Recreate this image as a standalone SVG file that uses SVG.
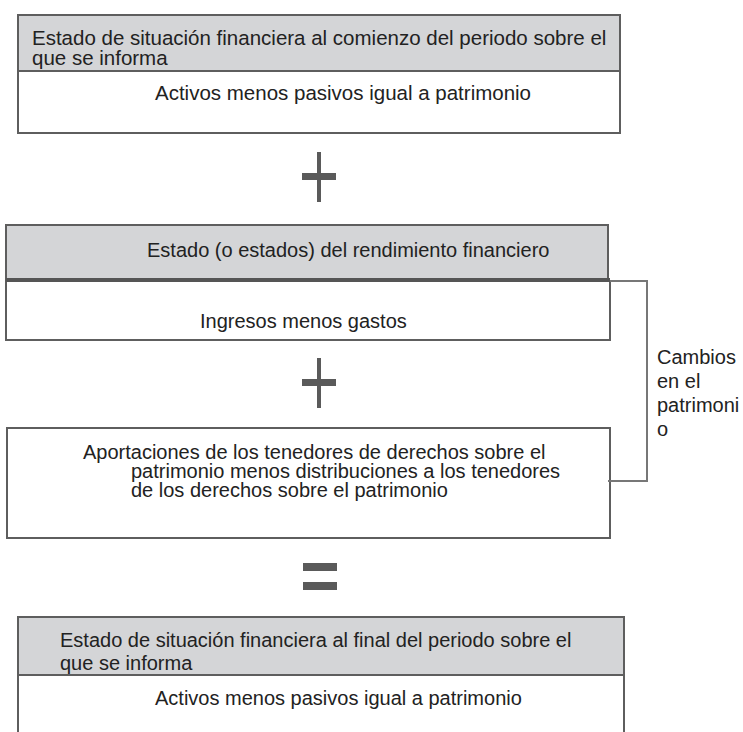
<svg xmlns="http://www.w3.org/2000/svg" width="743" height="732" viewBox="0 0 743 732">
<style>
text{font-family:"Liberation Sans",Arial,sans-serif;font-size:20px;fill:#222}
.big{font-size:20.5px}
.hdr{fill:#d4d5d7;stroke:#5e5e5e;stroke-width:2}
.box{fill:#fff;stroke:#5e5e5e;stroke-width:2}
.op{fill:#5a5a5a}
.br{fill:none;stroke:#777;stroke-width:2}
</style>
<rect width="743" height="732" fill="#fff"/>
<g id="inicio">
<rect class="box" x="18" y="15" width="602" height="118"/>
<rect class="hdr" x="18" y="15" width="602" height="56"/>
<text class="big" x="32" y="45">Estado de situación financiera al comienzo del periodo sobre el</text>
<text class="big" x="32" y="65">que se informa</text>
<text class="big" x="155" y="100">Activos menos pasivos igual a patrimonio</text>
</g>
<g id="mas1">
<rect class="op" x="317" y="152" width="4" height="50"/>
<rect class="op" x="302" y="173" width="34" height="7"/>
</g>
<g id="rendimiento">
<rect class="box" x="6" y="281" width="604" height="59"/>
<rect class="hdr" x="6" y="225" width="602" height="55"/>
<line x1="6" y1="280" x2="610" y2="280" stroke="#555" stroke-width="4"/>
<text x="147" y="257">Estado (o estados) del rendimiento financiero</text>
<text x="200" y="328">Ingresos menos gastos</text>
</g>
<g id="mas2">
<rect class="op" x="317" y="358" width="4" height="50"/>
<rect class="op" x="302" y="379" width="34" height="7"/>
</g>
<g id="aportaciones">
<rect class="box" x="7" y="428" width="603" height="110"/>
<text x="83" y="459">Aportaciones de los tenedores de derechos sobre el</text>
<text x="131" y="478">patrimonio menos distribuciones a los tenedores</text>
<text x="131" y="497">de los derechos sobre el patrimonio</text>
</g>
<g id="conectores">
<polyline class="br" points="610,281 647,281 647,481 608,481"/>
</g>
<g id="cambios">
<text x="657" y="364">Cambios</text>
<text x="657" y="388">en el</text>
<text x="657" y="412">patrimoni</text>
<text x="657" y="436">o</text>
</g>
<g id="igual">
<rect class="op" x="303" y="563" width="34" height="8"/>
<rect class="op" x="303" y="582" width="34" height="8"/>
</g>
<g id="final">
<rect class="box" x="18" y="617" width="606" height="130"/>
<rect class="hdr" x="18" y="617" width="606" height="58"/>
<text x="60" y="647">Estado de situación financiera al final del periodo sobre el</text>
<text x="60" y="670">que se informa</text>
<text x="155" y="705">Activos menos pasivos igual a patrimonio</text>
</g>
</svg>
